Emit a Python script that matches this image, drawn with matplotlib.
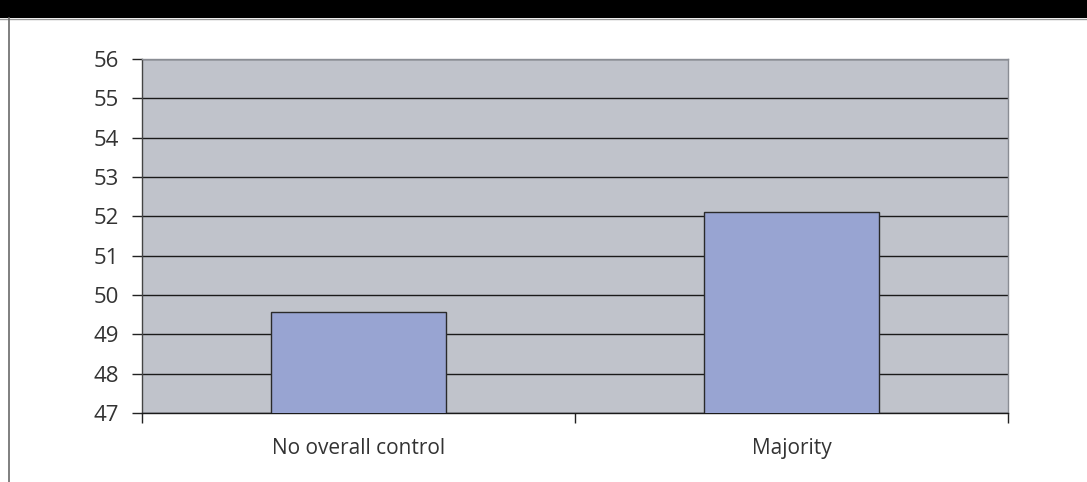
import matplotlib
matplotlib.use("Agg")
import matplotlib.pyplot as plt
from matplotlib.patches import Rectangle
from matplotlib.lines import Line2D

# Data
categories = ["No overall control", "Majority"]
values = [49.57, 52.11]
y_ticks = [47, 48, 49, 50, 51, 52, 53, 54, 55, 56]

W, H = 1087, 482
fig = plt.figure(figsize=(W / 100, H / 100), dpi=100)
fig.patch.set_facecolor("white")
plt.rcParams["font.family"] = ["Open Sans", "DejaVu Sans"]

# Black header band and the frame line on the left
fig.add_artist(Rectangle((0, 1 - 18 / H), 1, 18 / H, transform=fig.transFigure,
                         facecolor="black", edgecolor="none"))
fig.add_artist(Line2D([0, 1], [1 - 18.5 / H] * 2, transform=fig.transFigure,
                      color="#9a9a9a", lw=1))
fig.add_artist(Line2D([8.5 / W] * 2, [0, 1 - 18 / H], transform=fig.transFigure,
                      color="#6a6a6a", lw=1.2))

left, right, top, bottom = 142, 1008, 59, 413
ax = fig.add_axes([left / W, 1 - bottom / H, (right - left) / W, (bottom - top) / H])
ax.set_facecolor("#c0c3cb")

x = list(range(len(categories)))
ax.bar(x, values, width=0.406, bottom=0, color="#98a4d2",
       edgecolor="#2a2a2a", linewidth=1.0, zorder=3)

ax.set_ylim(y_ticks[0], y_ticks[-1])
ax.set_xlim(-0.5, len(categories) - 0.5)
ax.set_yticks(y_ticks)
ax.set_yticklabels([str(t) for t in y_ticks], fontsize=16, color="#333333")
ax.yaxis.grid(True, color="#1a1a1a", linewidth=1.0, zorder=1)
ax.set_axisbelow(True)

# Category labels centred, tick marks between categories
ax.set_xticks(x)
ax.set_xticklabels(categories, fontsize=15, color="#333333")
ax.tick_params(axis="x", which="major", length=0, pad=18)
ax.set_xticks([-0.5, 0.5, 1.5], minor=True)
ax.tick_params(axis="x", which="minor", length=7.2, width=1, color="#222222", direction="out")
ax.tick_params(axis="y", length=7.2, width=1, color="#222222", direction="out", pad=9.5)

ax.spines["bottom"].set_color("#1a1a1a")
ax.spines["left"].set_color("#444444")
ax.spines["top"].set_color("#8a8d94")
ax.spines["right"].set_color("#8a8d94")
for s in ax.spines.values():
    s.set_linewidth(1.0)

fig.savefig("out.png", dpi=100)
